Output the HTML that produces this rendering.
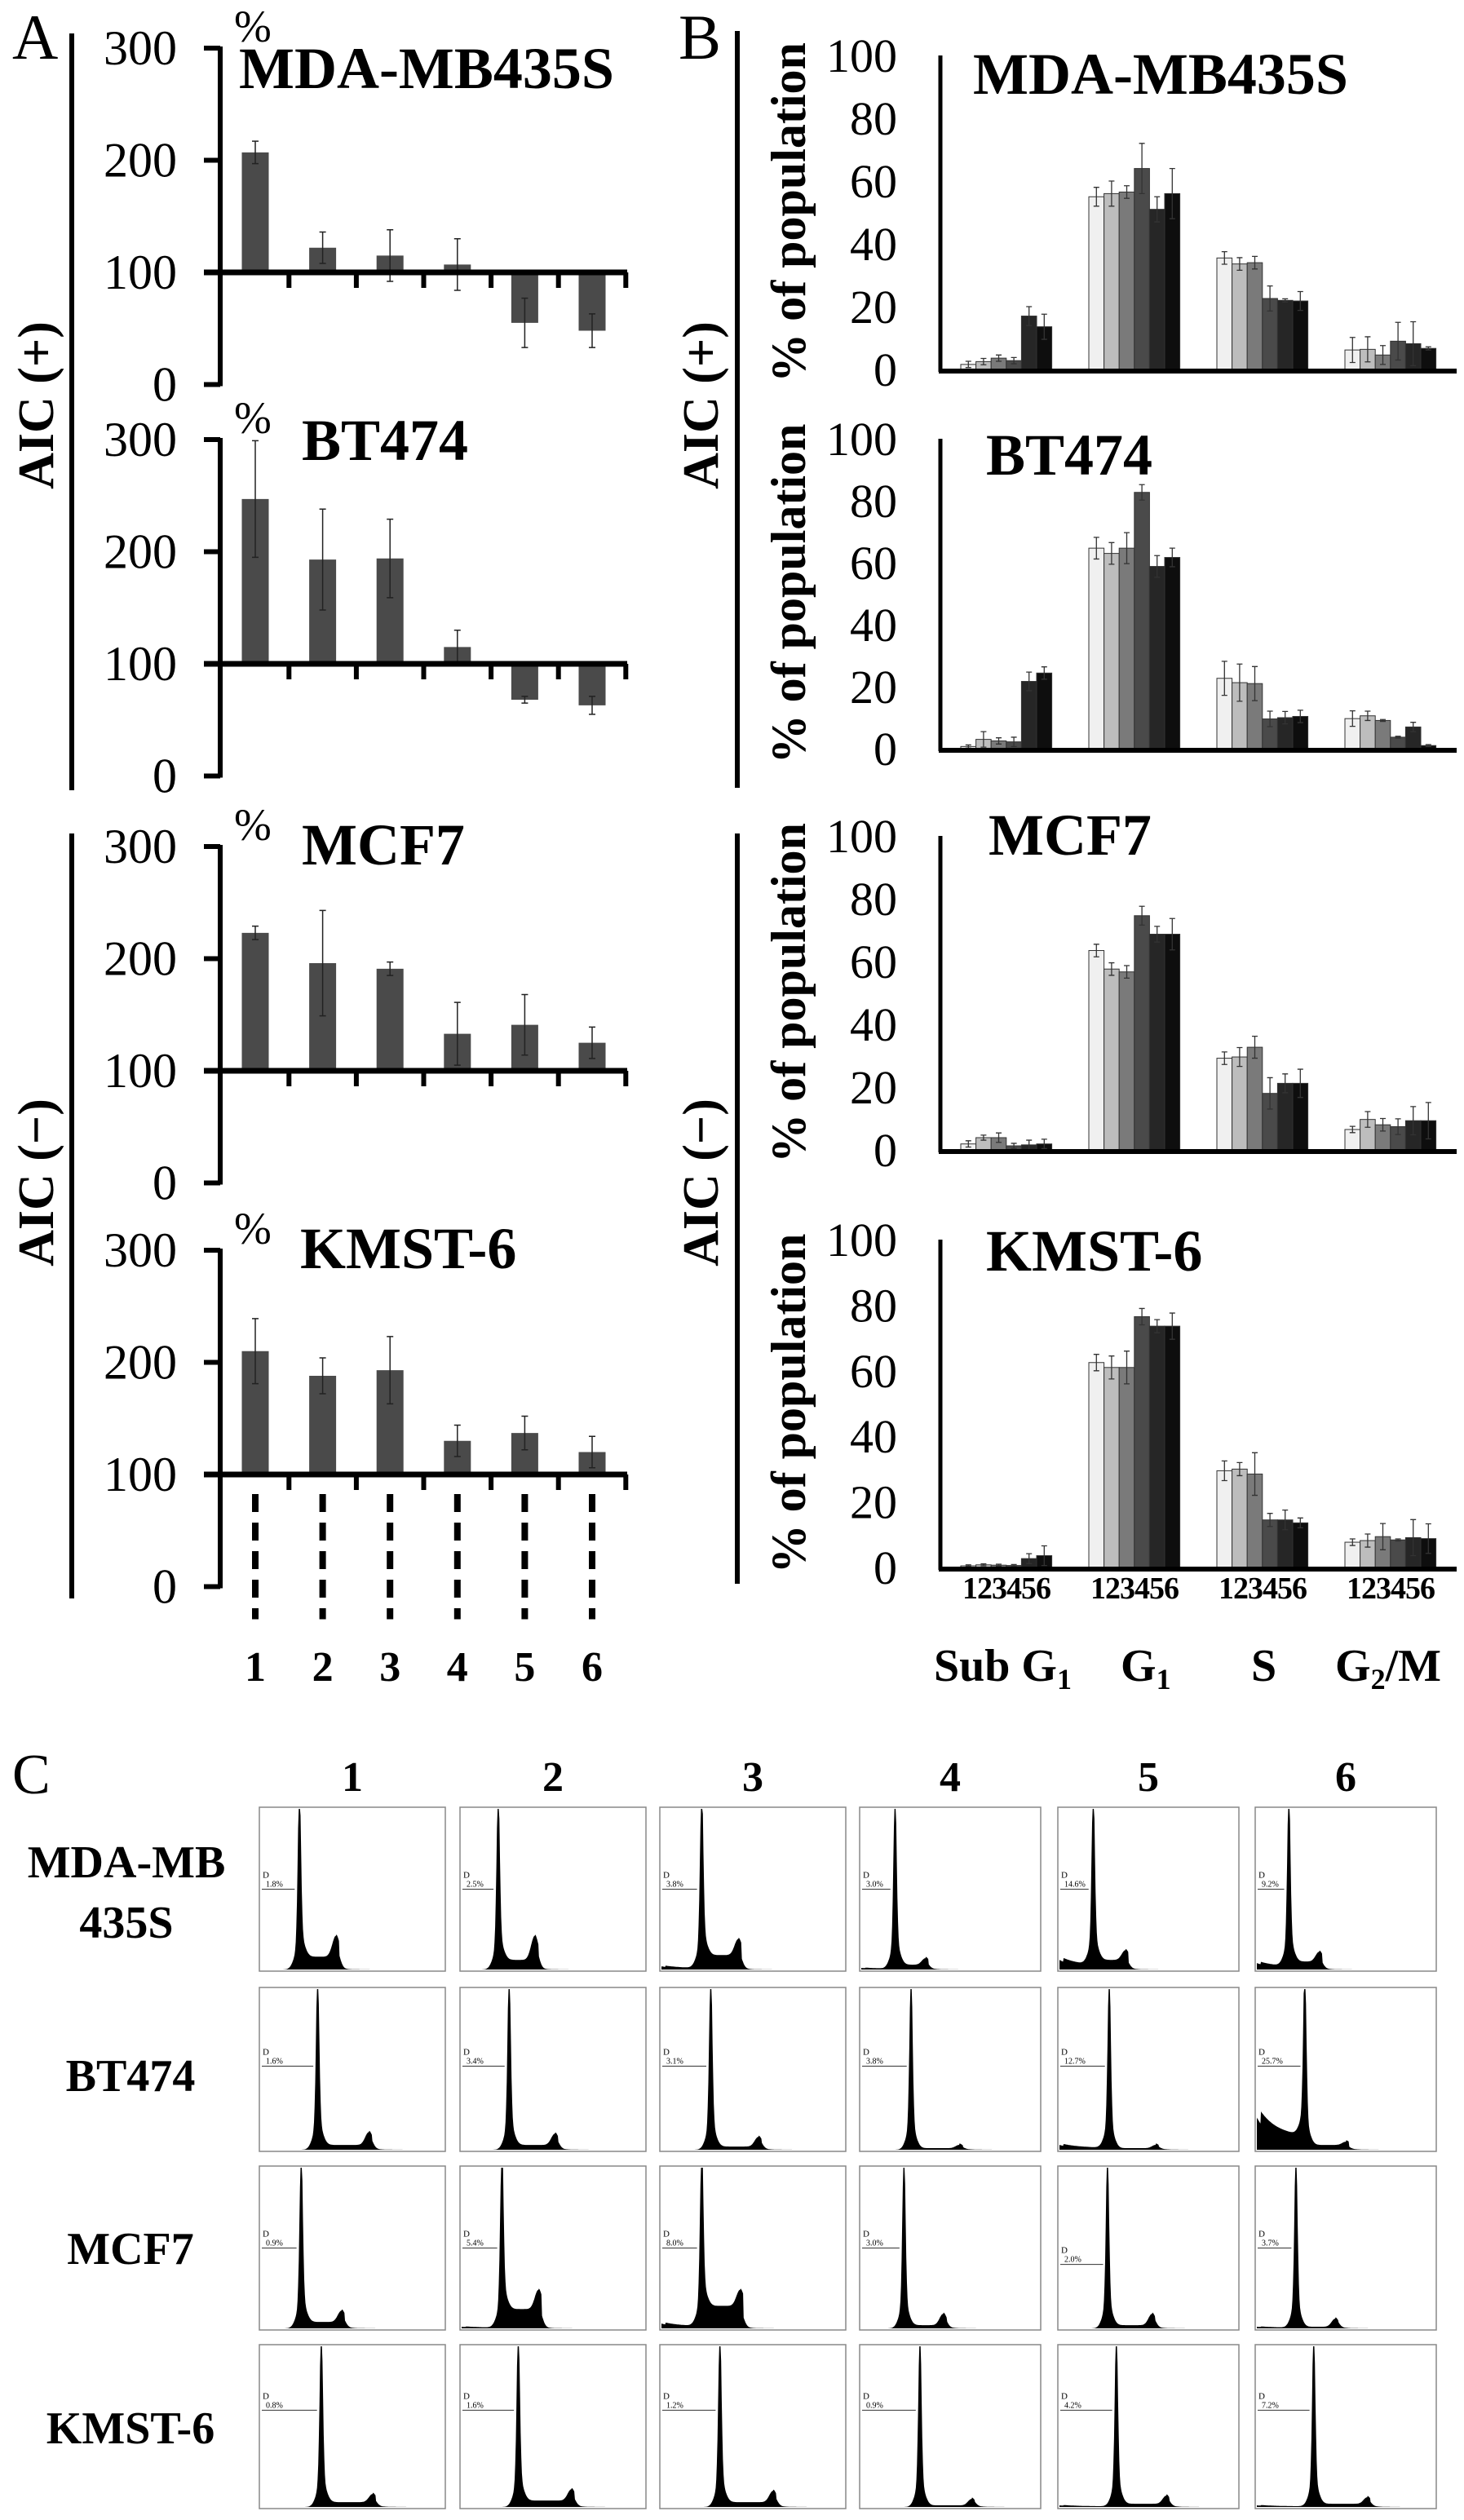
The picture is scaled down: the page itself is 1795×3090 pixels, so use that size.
<!DOCTYPE html>
<html><head><meta charset="utf-8"><style>
html,body{margin:0;padding:0;background:#fff;}
svg{display:block;font-family:"Liberation Serif","DejaVu Serif",serif;}
text{font-family:"Liberation Serif","DejaVu Serif",serif;}
</style></head><body>
<svg id="fig" xmlns="http://www.w3.org/2000/svg" width="1795" height="3090" viewBox="0 0 1795 3090" font-family="Liberation Serif, serif">
<rect width="1795" height="3090" fill="#fff"/>
<g id="gA"></g>
<g id="gB"></g>
<g id="gC"></g>
</svg>
<script>
// ---- Panel A data ----
const aCells = ["MDA-MB435S","BT474","MCF7","KMST-6"];
const aTicks = [0,100,200,300];
const aXLabels = ["1","2","3","4","5","6"];
const aMda = [207,122,115,107,55,48];
const aMdaErr = [10,14,23,23,22,15];
const aBt = [247,193,194,115,68,63];
const aBtErr = [52,45,35,15,3,8];
const aMcf = [223,196,191,133,141,125];
const aMcfErr = [6,47,6,28,27,14];
const aKm = [210,188,193,130,137,120];
const aKmErr = [29,16,30,14,15,14];
// ---- Panel B data ----
const bGroups = ["Sub G1","G1","S","G2/M"];
const bTicks = [0,20,40,60,80,100];
const bMda = [[1.6,2.5,3.6,2.8,17,13.6],[55,56,56.5,64,51,56],[35.5,33.6,34,22.6,22,21.8],[6.2,6.4,4.6,9,8.2,6.7]];
const bMdaErr = [[1,1,1,1,3,4],[3,4,2,8,4,8],[2,2,2,4,0.5,3],[4,4,3,6,7,0.5]];
const bBt = [[0.7,3,2.5,2.2,21.7,24.4],[64.7,63,64.7,82.7,58.8,61.7],[22.7,21.3,21,9.6,10,10.4],[9.7,10.6,9.1,3.7,7,1]];
const bBtErr = [[0.5,2.5,1,1.5,3,2],[3.5,3.5,5,2.5,3.5,3],[5.5,6,5.5,2.5,2,2],[2.5,1.5,0.3,0.3,1.5,0.3]];
const bMcf = [[1.9,3.9,3.9,1.3,1.6,1.9],[63.5,57.6,56.7,74.6,68.7,68.7],[29.2,29.6,32.7,18,21.2,21.2],[6.5,9.7,8,7.4,9.3,9.3]];
const bMcfErr = [[1,0.8,1.5,0.8,1.5,1.5],[2,2,2,3,2.5,5],[2,3,3.5,5,3,4.5],[1,2.5,2,2.5,4.5,5.8]];
const bKm = [[0.5,0.8,0.7,0.6,2.7,3.6],[62.5,61,61,76.5,73.6,73.6],[29.5,30,28.5,14.5,14.5,13.6],[7.7,8.2,9.4,8.4,9.1,8.8]];
const bKmErr = [[0.3,0.3,0.3,0.3,1.5,3],[2.5,3.5,5,2.5,2,4],[3,2,6.5,2,3,1.5],[1,2,4,0.3,5.5,4.5]];
// ---- Panel C data ----
const cCols = ["1","2","3","4","5","6"];
const cRows = ["BT474","MCF7","KMST-6"];
const cPct = [["1.8%","2.5%","3.8%","3.0%","14.6%","9.2%"],["1.6%","3.4%","3.1%","3.8%","12.7%","25.7%"],["0.9%","5.4%","8.0%","3.0%","2.0%","3.7%"],["0.8%","1.6%","1.2%","0.9%","4.2%","7.2%"]];
const cPeak = [[0.21,0.20,0.22,0.19,0.19,0.18],[0.31,0.26,0.27,0.28,0.28,0.27],[0.22,0.22,0.22,0.24,0.27,0.22],[0.33,0.31,0.32,0.33,0.32,0.32]];
const cHump = [[0.41,0.40,0.42,0.36,0.37,0.35],[0.59,0.51,0.53,0.55,0.54,0.50],[0.44,0.42,0.43,0.46,0.52,0.44],[0.61,0.60,0.61,0.62,0.60,0.62]];
const cHumpH = [[0.13,0.15,0.10,0.04,0.06,0.06],[0.08,0.07,0.06,0.02,0.02,0.02],[0.07,0.12,0.10,0.07,0.07,0.05],[0.05,0.07,0.07,0.04,0.05,0.04]];
const cPlat = [[0.08,0.06,0.09,0.03,0.06,0.05],[0.03,0.03,0.02,0.01,0.01,0.03],[0.04,0.12,0.14,0.02,0.02,0.01],[0.03,0.04,0.03,0.01,0.02,0.02]];
const cSub = [[0.0,0.0,0.02,0.01,0.06,0.04],[0.0,0.0,0.0,0.0,0.03,0.2],[0.0,0.01,0.03,0.0,0.0,0.01],[0.0,0.0,0.0,0.0,0.01,0.01]];

const NS="http://www.w3.org/2000/svg";
function mk(parent,tag,attrs,txt){const e=document.createElementNS(NS,tag);for(const k in attrs)e.setAttribute(k,attrs[k]);if(tag==='text'&&!attrs['font-family'])e.setAttribute('font-family','Liberation Serif, serif');if(txt!==undefined)e.textContent=txt;parent.appendChild(e);return e;}
const gA=document.getElementById('gA'),gB=document.getElementById('gB'),gC=document.getElementById('gC');

let t;
t=mk(gA,'text',{x:15,y:72,'font-size':78},'A');


t=mk(gB,'text',{x:832,y:72,'font-size':78},'B');


t=mk(gC,'text',{x:15,y:2199,'font-size':70},'C');



function bracket(g,x,y1,y2,ly,lx,label,name){
  let l=mk(g,'line',{x1:x,y1:y1,x2:x,y2:y2,stroke:'#000','stroke-width':6});
  
  
  let tx=mk(g,'text',{x:0,y:0,'font-size':62,'font-weight':'bold','text-anchor':'middle',transform:`translate(${lx},${ly}) rotate(-90)`},label);
  
  
}
bracket(gA,88,41,969,497,65,'AIC (+)','a-aic-pos');
bracket(gA,88,1022,1960,1450,65,'AIC (−)','a-aic-neg');
bracket(gB,904,38,966,497,880,'AIC (+)','b-aic-pos');
bracket(gB,904,1022,1942,1450,880,'AIC (−)','b-aic-neg');

// ---- Panel A charts ----
const aVals=[aMda,aBt,aMcf,aKm], aErrs=[aMdaErr,aBtErr,aMcfErr,aKmErr];
const aTop=[59,539,1038,1533];
const aAxisX=270, aScale=1.375;
for(let k=0;k<4;k++){
  const g=mk(gA,'g',{});
  
  
  const y=v=>aTop[k]+(300-v)*aScale;
  const x=i=>313+82.6*i;
  let ax=mk(g,'line',{x1:aAxisX,y1:y(300)-2,x2:aAxisX,y2:y(0)+2,stroke:'#000','stroke-width':6});
  
  
  aTicks.forEach(v=>{
    let tk=mk(g,'line',{x1:aAxisX-20,y1:y(v),x2:aAxisX,y2:y(v),stroke:'#000','stroke-width':6});
    
    
    let tl=mk(g,'text',{x:217,y:y(v)+20,'font-size':60,'text-anchor':'end'},String(v));
    
    
  });
  let pc=mk(g,'text',{x:287,y:aTop[k]-8,'font-size':55},'%');
  
  
  let ttl=mk(g,'text',{x:k==0?293:(k==1?370:(k==2?370:368)),y:aTop[k]+(k==0?49:(k==1?25:22)),'font-size':72,'font-weight':'bold'},aCells[k]);
  
  
  aVals[k].forEach((v,i)=>{
    const y1=Math.min(y(v),y(100)), h=Math.abs(y(v)-y(100));
    let b=mk(g,'rect',{x:x(i)-16.5,y:y1,width:33,height:h,fill:'#4a4a4a'});
    
    
    const e=aErrs[k][i];
    let eb=mk(g,'path',{d:`M${x(i)},${y(v+e)}V${y(v-e)}M${x(i)-4},${y(v+e)}h8M${x(i)-4},${y(v-e)}h8`,stroke:'#222','stroke-width':1.5,fill:'none'});
    
    
  });
  let bl=mk(g,'line',{x1:aAxisX-20,y1:y(100),x2:x(5)+43,y2:y(100),stroke:'#000','stroke-width':7});
  
  
  for(let i=0;i<6;i++){
    let tk=mk(g,'line',{x1:x(i)+41.3,y1:y(100),x2:x(i)+41.3,y2:y(100)+19,stroke:'#000','stroke-width':6});
    
    
  }
  if(k==3){
    for(let i=0;i<6;i++){
      let d=mk(g,'line',{x1:x(i),y1:y(100)+24,x2:x(i),y2:y(0)+40,stroke:'#000','stroke-width':8,'stroke-dasharray':'22 13'});
      
      
      let xl=mk(g,'text',{x:x(i),y:2061,'font-size':52,'font-weight':'bold','text-anchor':'middle'},aXLabels[i]);
      
      
    }
  }
}

// ---- Panel B charts ----
const bVals=[bMda,bBt,bMcf,bKm], bErrs=[bMdaErr,bBtErr,bMcfErr,bKmErr];
const bY0=[453,918,1410,1922], bY100=[68,538,1025,1520];
const bColors=['#f0f0f0','#bdbdbd','#7a7a7a','#4a4a4a','#262626','#0e0e0e'];
const bAxisX=1153;
const bTitleX=[1193,1209,1212,1209], bTitleY=[115,582,1048,1558];
for(let k=0;k<4;k++){
  const g=mk(gB,'g',{});
  
  
  const y=v=>bY0[k]-(bY0[k]-bY100[k])*v/100;
  const bx=(gi,i)=>1178+157*gi+18.6*i;
  let yl=mk(g,'text',{x:0,y:0,'font-size':60,'font-weight':'bold','text-anchor':'middle',transform:`translate(987,${(bY0[k]+bY100[k])/2}) rotate(-90)`},'% of population');
  
  
  bTicks.forEach(v=>{
    let tl=mk(g,'text',{x:1100,y:y(v)+20,'font-size':58,'text-anchor':'end'},String(v));
    
    
  });
  let ttl=mk(g,'text',{x:bTitleX[k],y:bTitleY[k],'font-size':72,'font-weight':'bold'},aCells[k]);
  
  
  bVals[k].forEach((grp,gi)=>{
    grp.forEach((v,i)=>{
      let b=mk(g,'rect',{x:bx(gi,i),y:y(v),width:18.6,height:y(0)-y(v),fill:bColors[i],stroke:'#333','stroke-width':1});
      
      
      const e=bErrs[k][gi][i], cx=bx(gi,i)+9.3;
      let eb=mk(g,'path',{d:`M${cx},${y(v+e)}V${y(Math.max(0,v-e))}M${cx-3.5},${y(v+e)}h7M${cx-3.5},${y(Math.max(0,v-e))}h7`,stroke:'#333','stroke-width':1.3,fill:'none'});
      
      
    });
  });
  let ax=mk(g,'line',{x1:bAxisX,y1:y(100),x2:bAxisX,y2:y(0)+3,stroke:'#000','stroke-width':5});
  
  
  let xa=mk(g,'line',{x1:bAxisX-2,y1:y(0)+2,x2:1786,y2:y(0)+2,stroke:'#000','stroke-width':6});
  
  
  if(k==3){
    bGroups.forEach((gn,gi)=>{
      let nl=mk(g,'text',{x:bx(gi,0)+56,y:1960,'font-size':38,'font-weight':'bold','text-anchor':'middle','letter-spacing':-1},'123456');
      
      
    });
  }
}
const gl=mk(gB,'text',{x:0,y:2061,'font-size':56,'font-weight':'bold'});


gl.innerHTML='<tspan x="1145">Sub G</tspan><tspan font-size="36" dy="10">1</tspan><tspan x="1374" dy="-10">G</tspan><tspan font-size="36" dy="10">1</tspan><tspan x="1534" dy="-10">S</tspan><tspan x="1637">G</tspan><tspan font-size="36" dy="10">2</tspan><tspan dy="-10">/M</tspan>';

// ---- Panel C ----
const colX=[318,564,809,1054,1297,1539], colW=[228,228,228,222,222,222];
const rowY=[2216,2437,2656,2875], rowH=201;
cCols.forEach((c,j)=>{
  let h=mk(gC,'text',{x:colX[j]+colW[j]/2,y:2196,'font-size':52,'font-weight':'bold','text-anchor':'middle'},c);
  
  
});
let rl=mk(gC,'text',{x:155,y:2302,'font-size':56,'font-weight':'bold','text-anchor':'middle'},'MDA-MB');


rl=mk(gC,'text',{x:155,y:2376,'font-size':56,'font-weight':'bold','text-anchor':'middle'},'435S');


cRows.forEach((r,i)=>{
  let l=mk(gC,'text',{x:160,y:[2564,2776,2996][i],'font-size':56,'font-weight':'bold','text-anchor':'middle'},r);
  
  
});
const labFrac=[0.5,0.48,0.5,0.4], labFrac5=[0.5,0.48,0.6,0.4];
for(let r=0;r<4;r++){for(let c=0;c<6;c++){
  const x0=colX[c],y0=rowY[r],w=colW[c],h=rowH;
  const g=mk(gC,'g',{});
  
  
  mk(g,'rect',{x:x0,y:y0,width:w,height:h,fill:'#fff',stroke:'#888','stroke-width':1.5});
  const pk=cPeak[r][c],hm=cHump[r][c],hh=cHumpH[r][c],pl=cPlat[r][c],sb=cSub[r][c];
  const base=y0+h-2, top=y0+2;
  let d=`M${x0+2},${base}`;
  for(let s=0;s<=300;s++){
    const tt=s/300;
    let f=0;
    if(tt<pk) f+=sb*Math.exp(-tt*10)+ (tt>0.02?sb*0.4:0);
    f+=Math.exp(-Math.pow((tt-pk)/0.012,2))*1.0 + Math.exp(-Math.pow((tt-pk)/0.035,2))*0.15;
    if(tt>pk && tt<hm+0.02) f+=pl;
    f+=hh*Math.exp(-Math.pow((tt-hm)/0.028,2));
    if(tt>hm) f+=0.01*Math.exp(-(tt-hm)*20);
    f=Math.min(f,1);
    d+=`L${(x0+2+tt*(w-4)).toFixed(1)},${(base-f*(base-top)).toFixed(1)}`;
  }
  d+=`L${x0+w-2},${base}Z`;
  mk(g,'path',{d:d,fill:'#000'});
  const ly=y0+h*(c==4?labFrac5[r]:labFrac[r]);
  mk(g,'text',{x:x0+4,y:ly-14,'font-size':11,'font-family':'Liberation Sans, sans-serif'},'D');
  mk(g,'text',{x:x0+8,y:ly-3,'font-size':10,'font-family':'Liberation Sans, sans-serif'},cPct[r][c]);
  mk(g,'line',{x1:x0+3,y1:ly,x2:x0+w*(pk-0.02),y2:ly,stroke:'#333','stroke-width':1});
}}
</script>
</body></html>
